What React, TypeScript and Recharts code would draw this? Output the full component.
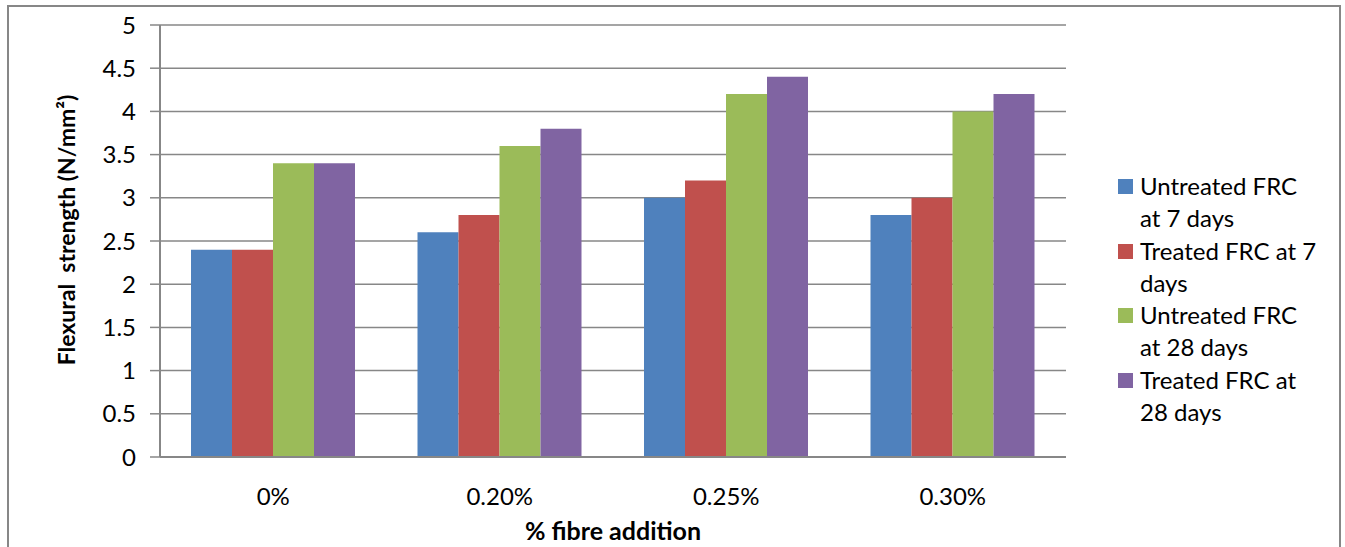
import { BarChart, Bar, XAxis, YAxis, CartesianGrid } from 'recharts'

const categories = ['0%', '0.20%', '0.25%', '0.30%']
const untreated7 = [2.4, 2.6, 3.0, 2.8]
const treated7 = [2.4, 2.8, 3.2, 3.0]
const untreated28 = [3.4, 3.6, 4.2, 4.0]
const treated28 = [3.4, 3.8, 4.4, 4.2]
const yTicks = [0, 0.5, 1, 1.5, 2, 2.5, 3, 3.5, 4, 4.5, 5]

const series = [
  { key: 'u7', color: '#4F81BD', lines: ['Untreated FRC', 'at 7 days'] },
  { key: 't7', color: '#C0504D', lines: ['Treated FRC at 7', 'days'] },
  { key: 'u28', color: '#9BBB59', lines: ['Untreated FRC', 'at 28 days'] },
  { key: 't28', color: '#8064A2', lines: ['Treated FRC at', '28 days'] },
]

const data = categories.map((c, i) => ({
  name: c,
  u7: untreated7[i],
  t7: treated7[i],
  u28: untreated28[i],
  t28: treated28[i],
}))

const FONT = 'Lato, "Open Sans", sans-serif'
const GRID = '#878787'

function YLabel() {
  return (
    <text
      x={57}
      y={223}
      transform="rotate(-90 57 223)"
      textAnchor="middle"
      dominantBaseline="central"
      fontFamily={FONT}
      fontWeight="bold"
      fontSize={23}
      fill="#000"
    >
      {'Flexural\u00A0 strength (N/mm²)'}
    </text>
  )
}

export default function App() {
  return (
    <div
      style={{
        position: 'absolute',
        left: 7,
        top: 5,
        width: 1334,
        height: 560,
        border: `2px solid ${GRID}`,
        boxSizing: 'border-box',
        background: '#fff',
        fontFamily: FONT,
      }}
    >
      <BarChart
        width={1330}
        height={545}
        data={data}
        margin={{ top: 18, right: 273, bottom: 0, left: 0 }}
        barCategoryGap={31}
        barGap={0}
      >
        <CartesianGrid vertical={false} stroke={GRID} strokeWidth={1.5} />
        <XAxis
          dataKey="name"
          height={95}
          tickLine={false}
          tickSize={0}
          tickMargin={31}
          axisLine={{ stroke: GRID, strokeWidth: 2 }}
          tick={{ fill: '#000', fontSize: 24, fontFamily: FONT }}
          label={{
            value: '% fibre addition',
            position: 'insideBottom',
            offset: 12,
            fill: '#000',
            fontSize: 25,
            fontWeight: 'bold',
            fontFamily: FONT,
          }}
        />
        <YAxis
          width={151}
          domain={[0, 5]}
          ticks={yTicks}
          interval={0}
          tickSize={10}
          tickMargin={14}
          axisLine={{ stroke: GRID, strokeWidth: 2 }}
          tickLine={{ stroke: GRID, strokeWidth: 1.5 }}
          tick={{ fill: '#000', fontSize: 24, fontFamily: FONT }}
          label={<YLabel />}
        />
        {series.map(s => (
          <Bar key={s.key} dataKey={s.key} fill={s.color} isAnimationActive={false} />
        ))}
      </BarChart>
      <div style={{ position: 'absolute', left: 1109, top: 163 }}>
        {series.map(s => (
          <div key={s.key} style={{ position: 'relative', height: 64.5 }}>
            <div
              style={{
                position: 'absolute',
                left: 0,
                top: 9,
                width: 15,
                height: 15,
                background: s.color,
              }}
            />
            <div style={{ position: 'absolute', left: 22, top: 0, fontSize: 24, lineHeight: '32px', color: '#000', whiteSpace: 'nowrap' }}>
              {s.lines.map(l => (
                <div key={l}>{l}</div>
              ))}
            </div>
          </div>
        ))}
      </div>
    </div>
  )
}
